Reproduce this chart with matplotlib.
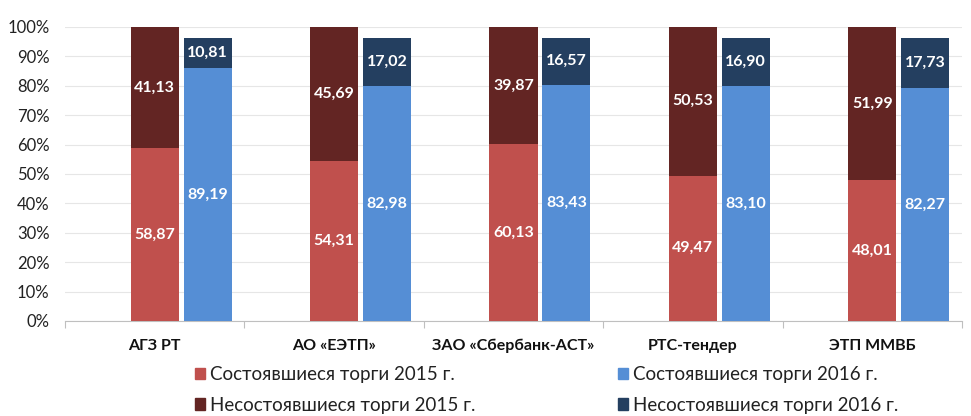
import matplotlib
matplotlib.use("Agg")
import matplotlib.pyplot as plt
from matplotlib.patches import Patch
import numpy as np

plt.rcParams['font.family'] = ['Lato', 'DejaVu Sans']

categories = ["АГЗ РТ", "АО «ЕЭТП»", "ЗАО «Сбербанк-АСТ»", "РТС-тендер", "ЭТП ММВБ"]
success_2015 = [58.87, 54.31, 60.13, 49.47, 48.01]
fail_2015 = [41.13, 45.69, 39.87, 50.53, 51.99]
# labelled values for 2016
success_2016 = [89.19, 82.98, 83.43, 83.10, 82.27]
fail_2016 = [10.81, 17.02, 16.57, 16.90, 17.73]
# heights of the 2016 segments as drawn in the picture
success_2016_drawn = [86.0, 79.9, 80.4, 80.0, 79.3]
fail_2016_drawn = [10.3, 16.4, 15.9, 16.3, 17.0]
legend_labels = ["Состоявшиеся торги 2015 г.", "Несостоявшиеся торги 2015 г.",
                 "Состоявшиеся торги 2016 г.", "Несостоявшиеся торги 2016 г."]

c_s15 = "#C0504D"
c_f15 = "#632523"
c_s16 = "#558ED5"
c_f16 = "#243F60"

fig = plt.figure(figsize=(9.71, 4.16), dpi=100)
ax = fig.add_axes([0.0669, 0.2284, 0.9238, 0.7067])

x = np.arange(len(categories))
w = 0.268
off = 0.295

ax.bar(x, success_2015, width=w, color=c_s15, zorder=3)
ax.bar(x, fail_2015, width=w, bottom=success_2015, color=c_f15, zorder=3)
ax.bar(x + off, success_2016_drawn, width=w, color=c_s16, zorder=3)
ax.bar(x + off, fail_2016_drawn, width=w, bottom=success_2016_drawn, color=c_f16, zorder=3)

def fmt(v):
    return f"{v:.2f}".replace('.', ',')

lab_kw = dict(ha='center', va='center', color='white', fontsize=11.5, fontweight='bold', zorder=4)
for i in range(len(categories)):
    ax.text(x[i], success_2015[i] / 2, fmt(success_2015[i]), **lab_kw)
    ax.text(x[i], success_2015[i] + fail_2015[i] / 2, fmt(fail_2015[i]), **lab_kw)
    ax.text(x[i] + off, success_2016_drawn[i] / 2, fmt(success_2016[i]), **lab_kw)
    ax.text(x[i] + off, success_2016_drawn[i] + fail_2016_drawn[i] / 2, fmt(fail_2016[i]), **lab_kw)

ax.set_xlim(-0.5, len(categories) - 0.5)
ax.set_ylim(0, 100)
ax.set_yticks(np.arange(0, 101, 10))
ax.set_yticklabels([f"{v}%" for v in range(0, 101, 10)], fontsize=12, color='#222222')
ax.grid(axis='y', color='#E6E6E6', linewidth=0.8, zorder=0)
ax.tick_params(axis='y', length=0, pad=11)

ax.set_xticks(np.arange(-0.5, len(categories), 1.0))
ax.set_xticklabels([])
ax.set_xticks(x, minor=True)
ax.set_xticklabels(categories, minor=True, fontsize=11.5, fontweight='bold', color='#111111')
ax.tick_params(axis='x', which='major', length=5, color='#BFBFBF', direction='out')
ax.tick_params(axis='x', which='minor', length=0, pad=13)

for s in ['top', 'right', 'left']:
    ax.spines[s].set_visible(False)
ax.spines['bottom'].set_color('#BFBFBF')

handles = [Patch(color=c_s15), Patch(color=c_f15), Patch(color=c_s16), Patch(color=c_f16)]
leg = fig.legend(handles, legend_labels, ncol=2, loc='upper left',
                 bbox_to_anchor=(0.2008, 0.12), frameon=False, fontsize=13.5,
                 handlelength=0.55, handleheight=0.55, handletextpad=0.25,
                 borderpad=0, borderaxespad=0,
                 columnspacing=7.6, labelspacing=0.72, labelcolor='#222222')

fig.savefig("out.png", dpi=100)
